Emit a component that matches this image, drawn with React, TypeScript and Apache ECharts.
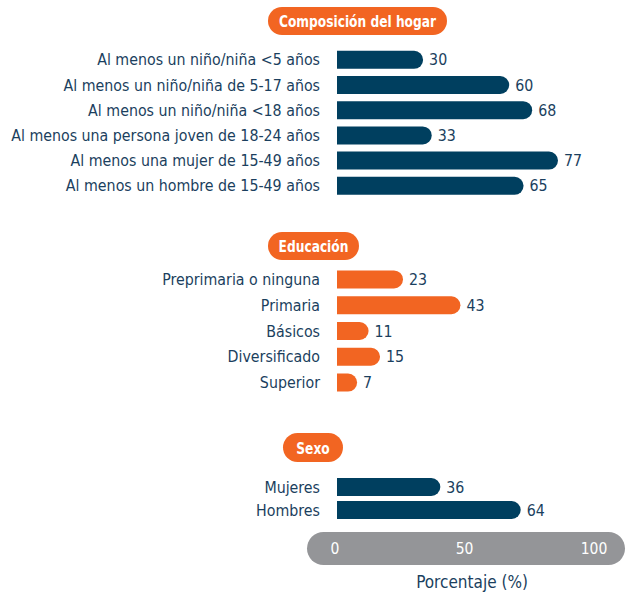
import React, { useEffect, useRef } from "react";
import * as echarts from "echarts";

const compCategories = [
  "Al menos un niño/niña <5 años",
  "Al menos un niño/niña de 5-17 años",
  "Al menos un niño/niña <18 años",
  "Al menos una persona joven de 18-24 años",
  "Al menos una mujer de 15-49 años",
  "Al menos un hombre de 15-49 años",
];
const compValues = [30, 60, 68, 33, 77, 65];

const eduCategories = ["Preprimaria o ninguna", "Primaria", "Básicos", "Diversificado", "Superior"];
const eduValues = [23, 43, 11, 15, 7];

const sexCategories = ["Mujeres", "Hombres"];
const sexValues = [36, 64];

const groupTitles = ["Composición del hogar", "Educación", "Sexo"];
const axisTicks = [0, 50, 100];
const axisTitle = "Porcentaje (%)";

const NAVY = "#003f5f";
const ORANGE = "#f26522";
const TEXT = "#1b3f5e";
const GRAY = "#949598";
const FONT = "'DejaVu Sans Condensed', 'Liberation Sans Narrow', 'Liberation Sans', sans-serif";

export default function App() {
  const ref = useRef<HTMLDivElement>(null);
  useEffect(() => {
    if (!ref.current) return;
    const chart = echarts.init(ref.current, null, { renderer: "svg" });
    const gridLeft = 337;
    const gridWidth = 287;
    const base = { outerBoundsMode: "none", containLabel: false };
    const grids = [
      { ...base, left: gridLeft, width: gridWidth, top: 47.2, height: 151.2 },
      { ...base, left: gridLeft, width: gridWidth, top: 266.6, height: 128.8 },
      { ...base, left: gridLeft, width: gridWidth, top: 475.5, height: 46 },
      { ...base, left: 335, width: 259, top: 530, height: 18.5 },
    ];
    const groups = [
      { cats: compCategories, vals: compValues, color: NAVY },
      { cats: eduCategories, vals: eduValues, color: ORANGE },
      { cats: sexCategories, vals: sexValues, color: NAVY },
    ];
    const xAxes: any[] = groups.map((_, i) => ({
      type: "value",
      gridIndex: i,
      min: 0,
      max: 100,
      show: false,
    }));
    xAxes.push({
      type: "value",
      gridIndex: 3,
      min: 0,
      max: 100,
      interval: 50,
      axisLine: { show: false },
      axisTick: { show: false },
      splitLine: { show: false },
      axisLabel: {
        show: true,
        color: "#ffffff",
        fontSize: 15.5,
        fontFamily: FONT,
        margin: 0,
        verticalAlign: "middle",
        customValues: axisTicks,
      },
    });
    const yAxes: any[] = groups.map((g, i) => ({
      type: "category",
      gridIndex: i,
      data: g.cats,
      inverse: true,
      axisLine: { show: false },
      axisTick: { show: false },
      axisLabel: {
        color: TEXT,
        fontSize: 15.8,
        fontFamily: FONT,
        margin: 17,
        interval: 0,
      },
    }));
    yAxes.push({ type: "category", gridIndex: 3, data: [""], show: false });
    const series: any[] = groups.map((g, i) => ({
      type: "bar",
      xAxisIndex: i,
      yAxisIndex: i,
      data: g.vals,
      barWidth: 18,
      itemStyle: { color: g.color, borderRadius: [0, 9, 9, 0] },
      label: {
        show: true,
        position: "right",
        distance: 6,
        color: TEXT,
        fontSize: 15.8,
        fontFamily: FONT,
      },
    }));
    const pills = [
      { x: 268, y: 7, w: 179, h: 28, text: groupTitles[0] },
      { x: 268, y: 232, w: 91, h: 28, text: groupTitles[1] },
      { x: 283, y: 433, w: 60, h: 29, text: groupTitles[2] },
    ];
    const graphic: any[] = pills.map((p) => ({
      type: "group",
      children: [
        {
          type: "rect",
          shape: { x: p.x, y: p.y, width: p.w, height: p.h, r: p.h / 2 },
          style: { fill: ORANGE },
        },
        {
          type: "text",
          x: p.x + p.w / 2,
          y: p.y + p.h / 2 + 0.5,
          scaleX: 0.85,
          style: {
            text: p.text,
            fill: "#ffffff",
            fontSize: 16,
            fontWeight: "bold",
            fontFamily: FONT,
            align: "center",
            verticalAlign: "middle",
          },
        },
      ],
    }));
    graphic.push({
      type: "rect",
      z: -10,
      shape: { x: 307, y: 532, width: 318, height: 33, r: 16.5 },
      style: { fill: GRAY },
    });
    graphic.push({
      type: "text",
      x: 472,
      y: 582,
      style: {
        text: axisTitle,
        fill: TEXT,
        fontSize: 17,
        fontFamily: FONT,
        align: "center",
        verticalAlign: "middle",
      },
    });
    chart.setOption({
      animation: false,
      backgroundColor: "#ffffff",
      grid: grids,
      xAxis: xAxes,
      yAxis: yAxes,
      series,
      graphic,
    });
    return () => chart.dispose();
  }, []);
  return (
    <div
      ref={ref}
      style={{ position: "fixed", left: 0, top: 0, width: 632, height: 598 }}
    />
  );
}
